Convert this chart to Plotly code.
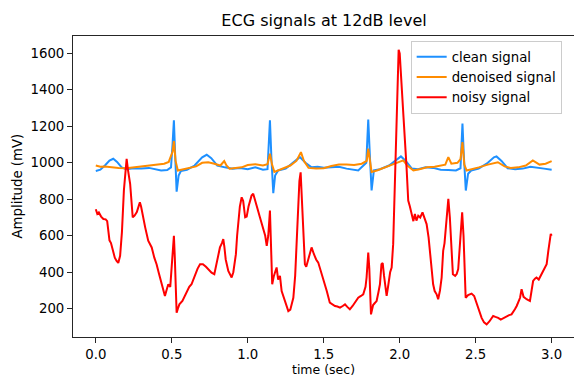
import plotly.graph_objects as go

# ---- data ----
clean_t = [0.00, 0.03, 0.06, 0.09, 0.115, 0.14, 0.17, 0.20, 0.25, 0.30, 0.35, 0.40, 0.43, 0.47, 0.495,
           0.505, 0.514, 0.522, 0.532, 0.545, 0.56, 0.60, 0.65, 0.70, 0.73, 0.76, 0.80, 0.85, 0.90, 0.95,
           1.00, 1.05, 1.10, 1.13, 1.138, 1.146, 1.155, 1.168, 1.18, 1.20, 1.25, 1.30, 1.343, 1.38, 1.42,
           1.46, 1.50, 1.55, 1.60, 1.65, 1.70, 1.727, 1.78, 1.793, 1.803, 1.815, 1.83, 1.87, 1.93, 1.98,
           2.008, 2.04, 2.08, 2.12, 2.17, 2.22, 2.27, 2.32, 2.37, 2.40, 2.405, 2.413, 2.422, 2.435, 2.45,
           2.47, 2.52, 2.58, 2.62, 2.637, 2.67, 2.71, 2.76, 2.81, 2.86, 2.90, 2.95, 3.00]
clean_v = [955, 962, 985, 1012, 1022, 1005, 975, 965, 970, 968, 972, 962, 958, 960, 975,
           1100, 1233, 1050, 842, 930, 955, 962, 985, 1030, 1044, 1025, 985, 975, 968, 972,
           965, 975, 962, 965, 1080, 1233, 1040, 833, 930, 958, 968, 1000, 1031, 1000, 975,
           978, 973, 975, 978, 968, 962, 958, 1000, 1237, 1050, 848, 958, 965, 985, 1020,
           1035, 1010, 968, 965, 975, 972, 962, 960, 958, 970, 1080, 1215, 1040, 848, 940,
           958, 968, 1000, 1030, 1035, 1010, 970, 965, 968, 978, 972, 968, 962]

den_t = [0.00, 0.03, 0.06, 0.10, 0.15, 0.20, 0.25, 0.30, 0.35, 0.40, 0.45, 0.48, 0.505, 0.514, 0.525,
         0.54, 0.58, 0.62, 0.66, 0.70, 0.74, 0.78, 0.82, 0.845, 0.86, 0.88, 0.92, 0.96, 1.00, 1.05,
         1.10, 1.13, 1.146, 1.16, 1.175, 1.20, 1.24, 1.28, 1.32, 1.35, 1.37, 1.40, 1.45, 1.50, 1.55,
         1.60, 1.65, 1.70, 1.75, 1.783, 1.793, 1.805, 1.815, 1.85, 1.90, 1.95, 2.00, 2.023, 2.05, 2.09,
         2.13, 2.18, 2.23, 2.28, 2.30, 2.32, 2.34, 2.38, 2.40, 2.413, 2.425, 2.44, 2.48, 2.52, 2.58,
         2.646, 2.69, 2.73, 2.78, 2.83, 2.876, 2.92, 2.96, 3.00]
den_v = [985, 978, 980, 975, 972, 970, 975, 978, 985, 988, 995, 1005, 1060, 1119, 1010,
         958, 965, 970, 980, 1000, 1003, 995, 985, 1009, 985, 967, 970, 975, 988, 992,
         985, 992, 1050, 990, 950, 958, 970, 985, 1010, 1058, 1010, 972, 968, 970, 982,
         990, 990, 988, 995, 1010, 1077, 990, 950, 958, 975, 990, 1005, 1013, 985, 958,
         965, 975, 978, 985, 990, 1031, 995, 1000, 1020, 1113, 990, 958, 965, 975, 990,
         1003, 980, 972, 975, 985, 1013, 990, 995, 1009]

noisy_t = [0.000, 0.010, 0.020, 0.035, 0.050, 0.065, 0.075, 0.083, 0.090, 0.100, 0.110, 0.125, 0.137,
           0.148, 0.160, 0.172, 0.185, 0.197, 0.203, 0.212, 0.226, 0.243, 0.255, 0.270, 0.282, 0.290,
           0.298, 0.310, 0.325, 0.345, 0.368, 0.385, 0.400, 0.415, 0.433, 0.445, 0.455, 0.465, 0.477,
           0.490, 0.500, 0.506, 0.514, 0.520, 0.528, 0.532, 0.540, 0.550, 0.570, 0.585, 0.598, 0.615,
           0.630, 0.653, 0.670, 0.686, 0.705, 0.725, 0.745, 0.762, 0.780, 0.790, 0.800, 0.817, 0.830,
           0.839, 0.846, 0.855, 0.872, 0.885, 0.894, 0.905, 0.922, 0.930, 0.938, 0.948, 0.960, 0.970,
           0.983, 0.993, 1.005, 1.014, 1.025, 1.036, 1.048, 1.060, 1.080, 1.100, 1.115, 1.125, 1.135,
           1.146, 1.152, 1.161, 1.172, 1.180, 1.190, 1.200, 1.212, 1.223, 1.235, 1.245, 1.258, 1.267,
           1.280, 1.290, 1.300, 1.312, 1.320, 1.330, 1.340, 1.348, 1.356, 1.365, 1.376, 1.385, 1.400,
           1.410, 1.420, 1.435, 1.450, 1.464, 1.480, 1.497, 1.520, 1.540, 1.557, 1.574, 1.590, 1.607,
           1.625, 1.640, 1.655, 1.672, 1.690, 1.706, 1.727, 1.745, 1.760, 1.775, 1.782, 1.793, 1.800,
           1.811, 1.825, 1.835, 1.848, 1.860, 1.870, 1.880, 1.888, 1.897, 1.905, 1.914, 1.925, 1.937,
           1.947, 1.957, 1.965, 1.975, 1.985, 1.993, 2.000, 2.010, 2.025, 2.045, 2.056, 2.067, 2.078,
           2.090, 2.100, 2.110, 2.122, 2.135, 2.150, 2.160, 2.177, 2.190, 2.200, 2.210, 2.220, 2.230,
           2.243, 2.253, 2.265, 2.276, 2.286, 2.295, 2.305, 2.320, 2.330, 2.340, 2.350, 2.365, 2.375,
           2.385, 2.398, 2.411, 2.420, 2.434, 2.450, 2.473, 2.490, 2.505, 2.516, 2.528, 2.539, 2.555,
           2.572, 2.590, 2.600, 2.615, 2.630, 2.648, 2.665, 2.680, 2.703, 2.720, 2.736, 2.750, 2.758,
           2.770, 2.780, 2.792, 2.802, 2.815, 2.835, 2.857, 2.868, 2.878, 2.890, 2.900, 2.915, 2.930,
           2.944, 2.955, 2.967, 2.978, 2.988, 2.994, 3.000]
noisy_v = [745, 720, 728, 705, 692, 690, 680, 600, 575, 560, 530, 480, 462,
           451, 490, 620, 850, 1000, 1022, 960, 885, 701, 710, 730, 760, 783,
           760, 700, 646, 573, 536, 480, 444, 395, 334, 300, 270, 300, 334,
           320, 420, 481, 600, 480, 334, 178, 200, 224, 243, 270, 297, 320,
           334, 389, 420, 444, 444, 430, 410, 398, 389, 430, 481, 536, 560,
           582, 540, 470, 407, 390, 371, 400, 499, 600, 664, 760, 811, 790,
           701, 705, 760, 793, 820, 830, 800, 760, 701, 637, 600, 545, 600,
           738, 600, 334, 380, 400, 426, 360, 380, 297, 270, 242, 210, 187,
           195, 230, 260, 380, 517, 750, 900, 948, 800, 600, 444, 430, 480,
           517, 536, 500, 470, 453, 410, 371, 297, 233, 222, 215, 212, 206,
           215, 224, 210, 197, 215, 233, 260, 270, 279, 320, 371, 508, 420,
           169, 220, 230, 242, 290, 334, 444, 450, 380, 310, 270, 330, 400,
           426, 554, 793, 1150, 1500, 1620, 1600, 1480, 1250, 976, 793, 760, 728,
           680, 720, 683, 710, 700, 728, 700, 664, 591, 499, 400, 334, 297,
           279, 252, 300, 371, 517, 560, 680, 802, 700, 517, 389, 380, 390,
           417, 600, 728, 600, 260, 275, 283, 270, 230, 206, 175, 150, 125,
           114, 130, 145, 160, 155, 150, 140, 148, 160, 165, 169, 185, 197,
           215, 233, 260, 307, 265, 252, 242, 300, 352, 365, 371, 360, 385,
           407, 420, 444, 517, 600, 610, 600]

x_ticks = [0.0, 0.5, 1.0, 1.5, 2.0, 2.5, 3.0]
y_ticks = [200, 400, 600, 800, 1000, 1200, 1400, 1600]

FONT = "DejaVu Sans"
AX = "#262626"

fig = go.Figure()
fig.add_trace(go.Scatter(x=clean_t, y=clean_v, mode="lines", name="clean signal",
                         line=dict(color="#1E90FF", width=2)))
fig.add_trace(go.Scatter(x=den_t, y=den_v, mode="lines", name="denoised signal",
                         line=dict(color="#FF8C00", width=2)))
fig.add_trace(go.Scatter(x=noisy_t, y=noisy_v, mode="lines", name="noisy signal",
                         line=dict(color="#FF0000", width=2)))

fig.update_layout(
    width=574, height=377,
    margin=dict(l=73, r=0, t=36, b=40),
    paper_bgcolor="white", plot_bgcolor="white",
    font=dict(family=FONT, size=13.3, color="black"),
    title=dict(text="ECG signals at 12dB level", x=0.5645, xanchor="center",
               y=1 - 20 / 377, yanchor="middle", font=dict(size=16, color="black")),
    showlegend=True,
    legend=dict(x=0.674, y=0.985, xanchor="left", yanchor="top",
                bgcolor="rgba(255,255,255,0.8)", bordercolor="#cccccc", borderwidth=1,
                font=dict(size=13.3), itemwidth=30, tracegroupgap=0),
    xaxis=dict(range=[-0.15, 3.147], tickvals=x_ticks, tickformat=".1f",
               showgrid=False, zeroline=False, showline=True, linecolor=AX, linewidth=1,
               mirror=True, ticks="outside", ticklen=5, tickcolor=AX, tickwidth=1),
    yaxis=dict(range=[45, 1695], tickvals=y_ticks,
               showgrid=False, zeroline=False, showline=True, linecolor=AX, linewidth=1,
               ticks="outside", ticklen=5, tickcolor=AX, tickwidth=1),
    annotations=[
        dict(text="time (sec)", xref="paper", yref="paper", x=0.5, y=-(377.5 - 337) / 301,
             xanchor="center", yanchor="bottom", showarrow=False, borderpad=0,
             font=dict(size=12.5)),
        dict(text="Amplitude (mV)", xref="paper", yref="paper", x=-(73 - 17) / 501, y=0.5,
             xanchor="center", yanchor="middle", textangle=-90, showarrow=False,
             font=dict(size=13.3)),
    ],
)

fig.write_html("out.html", config={"displayModeBar": False},
               post_script="document.body.style.margin='0';document.body.style.padding='0';")
